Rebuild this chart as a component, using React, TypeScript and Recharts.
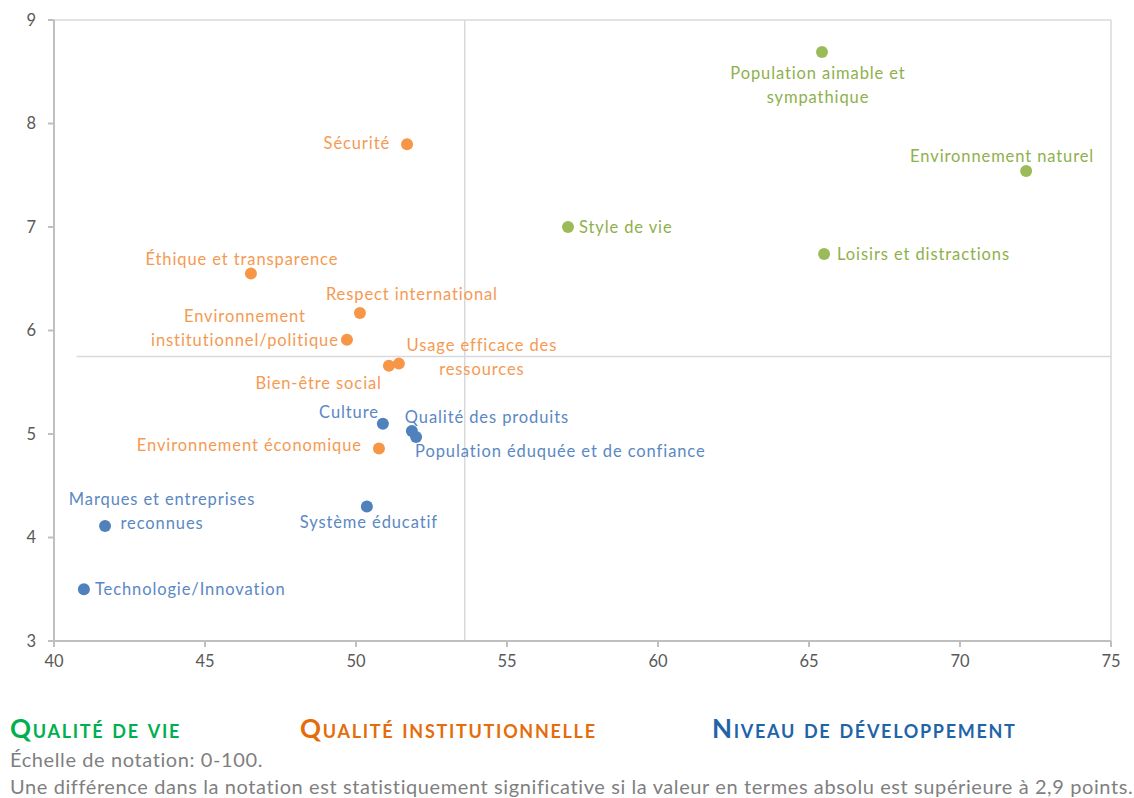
import { ScatterChart, Scatter, XAxis, YAxis, ReferenceLine } from "recharts";

// Qualité de vie
const vieNames = [
  "Population aimable et\nsympathique",
  "Environnement naturel",
  "Style de vie",
  "Loisirs et distractions",
];
const vieX = [65.43, 72.19, 57.02, 65.5];
const vieY = [8.69, 7.54, 7.0, 6.74];

// Qualité institutionnelle
const instNames = [
  "Sécurité",
  "Éthique et transparence",
  "Respect international",
  "Environnement\ninstitutionnel/politique",
  "Usage efficace des\nressources",
  "Bien-être social",
  "Environnement économique",
];
const instX = [51.69, 46.52, 50.13, 49.7, 51.42, 51.09, 50.76];
const instY = [7.8, 6.55, 6.17, 5.91, 5.68, 5.66, 4.86];

// Niveau de développement
const devNames = [
  "Culture",
  "Qualité des produits",
  "Population éduquée et de confiance",
  "Système éducatif",
  "Marques et entreprises\nreconnues",
  "Technologie/Innovation",
];
const devX = [50.89, 51.85, 51.99, 50.36, 41.69, 40.99];
const devY = [5.1, 5.03, 4.97, 4.3, 4.11, 3.5];

const xTicks = [40, 45, 50, 55, 60, 65, 70, 75];
const yTicks = [3, 4, 5, 6, 7, 8, 9];
const midX = 53.6;
const midY = 5.75;

const build = (names: string[], xs: number[], ys: number[]) =>
  names.map((name, i) => ({ name, x: xs[i], y: ys[i] }));

const vieData = build(vieNames, vieX, vieY);
const instData = build(instNames, instX, instY);
const devData = build(devNames, devX, devY);

type Anchor = "start" | "middle" | "end";
// label offsets from the dot (first line baseline)
const placement: Record<string, { dx: number; dy: number; anchor: Anchor }> = {
  "Population aimable et\nsympathique": { dx: -4, dy: 27, anchor: "middle" },
  "Environnement naturel": { dx: -24, dy: -9, anchor: "middle" },
  "Style de vie": { dx: 11, dy: 6, anchor: "start" },
  "Loisirs et distractions": { dx: 13, dy: 6, anchor: "start" },
  "Sécurité": { dx: -17, dy: 5, anchor: "end" },
  "Éthique et transparence": { dx: -9, dy: -9, anchor: "middle" },
  "Respect international": { dx: 52, dy: -13, anchor: "middle" },
  "Environnement\ninstitutionnel/politique": { dx: -102, dy: -18, anchor: "middle" },
  "Usage efficace des\nressources": { dx: 83, dy: -13, anchor: "middle" },
  "Bien-être social": { dx: -7, dy: 23, anchor: "end" },
  "Environnement économique": { dx: -17, dy: 3, anchor: "end" },
  "Culture": { dx: -4, dy: -6, anchor: "end" },
  "Qualité des produits": { dx: -7, dy: -8, anchor: "start" },
  "Population éduquée et de confiance": { dx: -1, dy: 20, anchor: "start" },
  "Système éducatif": { dx: 2, dy: 22, anchor: "middle" },
  "Marques et entreprises\nreconnues": { dx: 57, dy: -21, anchor: "middle" },
  "Technologie/Innovation": { dx: 11, dy: 6, anchor: "start" },
};

const FONT = "Lato, 'Noto Sans', sans-serif";

const makeDot = (dotColor: string, textColor: string) => (props: any) => {
  const { cx, cy, payload } = props;
  const p = placement[payload.name] ?? { dx: 10, dy: 5, anchor: "start" };
  const lines = String(payload.name).split("\n");
  return (
    <g>
      <circle cx={cx} cy={cy} r={6} fill={dotColor} />
      <text
        x={cx + p.dx}
        y={cy + p.dy}
        textAnchor={p.anchor}
        fill={textColor}
        fontSize={16.5}
        fontFamily={FONT}
        letterSpacing={0.9}
      >
        {lines.map((l, i) => (
          <tspan key={i} x={cx + p.dx} dy={i === 0 ? 0 : 24}>
            {l}
          </tspan>
        ))}
      </text>
    </g>
  );
};

const legendTitle = (text: string, color: string, left: number) => (
  <div
    style={{
      position: "absolute",
      left,
      top: 712,
      color,
      fontWeight: 700,
      fontSize: 26,
      fontVariant: "small-caps",
      fontFamily: FONT,
      letterSpacing: 1.7,
      whiteSpace: "nowrap",
    }}
  >
    {text}
  </div>
);

const noteStyle = (top: number) => ({
  position: "absolute" as const,
  left: 10,
  top,
  color: "#7f7f7f",
  fontSize: 20,
  lineHeight: "24px",
  fontFamily: FONT,
  letterSpacing: 0.6,
  whiteSpace: "nowrap" as const,
});

export default function App() {
  const tick = { fill: "#595959", fontSize: 16.5, fontFamily: FONT };
  return (
    <div
      style={{
        position: "absolute",
        left: 0,
        top: 0,
        width: 1134,
        height: 798,
        background: "#fff",
        overflow: "hidden",
      }}
    >
      <ScatterChart
        width={1134}
        height={680}
        margin={{ top: 20, right: 23, left: 0, bottom: 0 }}
      >
        <XAxis
          type="number"
          dataKey="x"
          domain={[40, 75]}
          ticks={xTicks}
          interval={0}
          height={39}
          tick={tick}
          tickSize={6}
          tickMargin={8}
          stroke="#bfbfbf"
          strokeWidth={2}
          allowDataOverflow
        />
        <YAxis
          type="number"
          dataKey="y"
          domain={[3, 9]}
          ticks={yTicks}
          interval={0}
          width={54}
          tick={tick}
          tickSize={6}
          tickMargin={12}
          stroke="#bfbfbf"
          strokeWidth={2}
          allowDataOverflow
        />
        <ReferenceLine y={9} stroke="#d9d9d9" strokeWidth={1.5} />
        <ReferenceLine x={75} stroke="#d9d9d9" strokeWidth={1.5} />
        <ReferenceLine x={midX} stroke="#d9d9d9" strokeWidth={1.5} />
        <ReferenceLine
          segment={[
            { x: 40.75, y: midY },
            { x: 75, y: midY },
          ]}
          stroke="#d9d9d9"
          strokeWidth={1.5}
        />
        <Scatter
          name="Qualité de vie"
          data={vieData}
          shape={makeDot("#9bbb59", "#8fb04c")}
          isAnimationActive={false}
        />
        <Scatter
          name="Qualité institutionnelle"
          data={instData}
          shape={makeDot("#f79646", "#f59a52")}
          isAnimationActive={false}
        />
        <Scatter
          name="Niveau de développement"
          data={devData}
          shape={makeDot("#4f81bd", "#5a88c4")}
          isAnimationActive={false}
        />
      </ScatterChart>
      {legendTitle("Qualité de vie", "#00b050", 10)}
      {legendTitle("Qualité institutionnelle", "#e46c0a", 300)}
      {legendTitle("Niveau de développement", "#1f64a8", 712)}
      <div style={noteStyle(747)}>Échelle de notation: 0-100.</div>
      <div style={noteStyle(774)}>
        Une différence dans la notation est statistiquement significative si la valeur en termes absolu est supérieure à 2,9 points.
      </div>
    </div>
  );
}
